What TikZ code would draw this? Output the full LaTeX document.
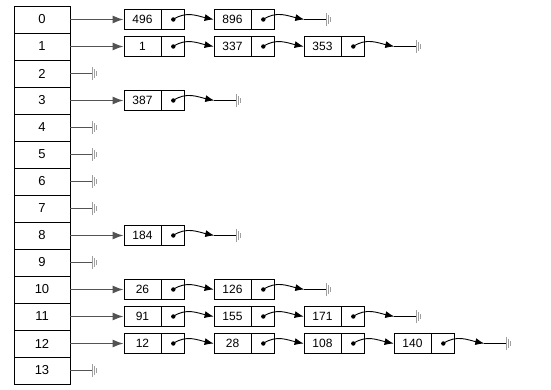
\documentclass[tikz,border=0pt]{standalone}
\usepackage{fontspec}
\setmainfont{Liberation Sans}
\usetikzlibrary{positioning, arrows.meta}

\tikzset{
  slot/.style={draw, line width=0.8pt, minimum width=56pt, minimum height=27pt, inner sep=0pt,
    font=\fontsize{13}{13}\selectfont},
  val/.style={draw, line width=0.8pt, minimum width=37pt, minimum height=20pt, inner sep=0pt,
    font=\fontsize{12}{12}\selectfont},
  ptr/.style={draw, line width=0.8pt, minimum width=23pt, minimum height=20pt, inner sep=0pt},
  link/.style={-{Latex[length=9pt,width=7pt]}, line width=0.9pt},
  head/.style={-{Latex[length=11pt,width=8pt]}, line width=1.3pt, gray!65!black},
  nil/.pic={\draw[gray!75, line width=1.1pt] (0,-6.5) -- (0,6.5) (2,-4.5) -- (2,4.5) (4,-2.5) -- (4,2.5);}
}

\begin{document}
\begin{tikzpicture}[x=1pt, y=1pt]
    \useasboundingbox (0,0) rectangle (551,-390);

    % the table
    \foreach \i in {0,...,13}{
        \node[slot] (r\i) at (42,-19.5-27*\i) {\i};
    }

    % rows with lists
    \foreach \i/\cnt/\list in {
        0/2/{496,896},
        1/3/{1,337,353},
        3/1/{387},
        8/1/{184},
        10/2/{26,126},
        11/3/{91,155,171},
        12/4/{12,28,108,140}}{
        \foreach \v [count=\j] in \list {
            \node[val] (v\i-\j) at (142.5+90*\j-90,-19.5-27*\i) {\v};
            \node[ptr, right=0pt of v\i-\j] (p\i-\j) {};
            \fill (p\i-\j.center) circle (2.2pt);
            \ifnum\j>1
                \pgfmathtruncatemacro\k{\j-1}
                \draw[link] (p\i-\k.center) to[out=35,in=168] (v\i-\j.west);
            \else
                \draw[head] (r\i.east) -- (v\i-\j.west);
            \fi
            \ifnum\j=\cnt
                \draw[link] (p\i-\j.center) to[out=35,in=168] ++(41,0) coordinate (e\i);
                \draw[line width=0.9pt] (e\i) -- ++(22,0) coordinate (g\i);
                \pic at (g\i) {nil};
            \fi
        }
    }

    % empty rows
    \foreach \i in {2,4,5,6,7,9,13}{
        \draw[line width=1.3pt, gray!65!black] (r\i.east) -- ++(22,0) coordinate (g\i);
        \pic at (g\i) {nil};
    }
\end{tikzpicture}
\end{document}
